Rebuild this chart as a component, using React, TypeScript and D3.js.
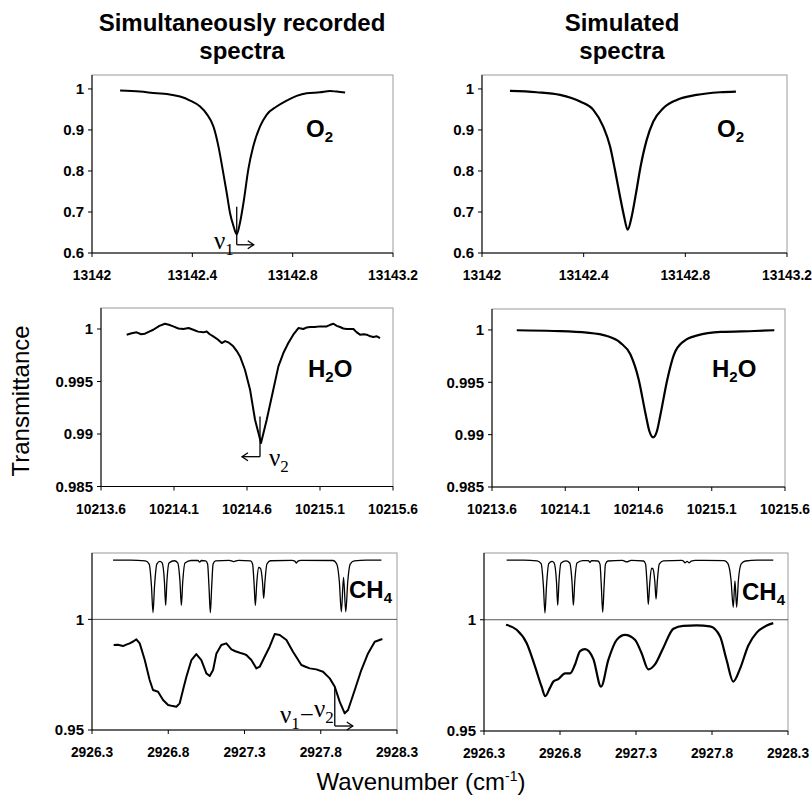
import React from 'react';
import * as d3 from 'd3';

type Pt = [number, number];

// ---- O2 line (13142 cm-1 region) ----
const o2Recorded: Pt[] = [
  [13142.112, 0.996], [13142.191, 0.9935], [13142.258, 0.9895], [13142.298, 0.9879],
  [13142.351, 0.9814], [13142.391, 0.9717], [13142.431, 0.9571], [13142.457, 0.9393],
  [13142.484, 0.9086], [13142.504, 0.86], [13142.521, 0.8034], [13142.537, 0.7468],
  [13142.55, 0.6982], [13142.564, 0.6658], [13142.577, 0.6456], [13142.59, 0.6739],
  [13142.606, 0.7306], [13142.623, 0.8034], [13142.643, 0.86], [13142.67, 0.9086],
  [13142.696, 0.9369], [13142.736, 0.9571], [13142.776, 0.9717], [13142.816, 0.983],
  [13142.856, 0.9895], [13142.909, 0.9919], [13142.949, 0.9951], [13142.976, 0.9935],
  [13143.009, 0.9911],
];
const o2Simulated: Pt[] = [
  [13142.11, 0.9951], [13142.215, 0.9919], [13142.307, 0.9854], [13142.386, 0.9692],
  [13142.438, 0.9489], [13142.477, 0.9083], [13142.504, 0.8596], [13142.523, 0.8028],
  [13142.543, 0.7379], [13142.559, 0.6892], [13142.573, 0.6568], [13142.589, 0.6892],
  [13142.606, 0.746], [13142.624, 0.8109], [13142.648, 0.8759], [13142.674, 0.9205],
  [13142.713, 0.9529], [13142.766, 0.9732], [13142.844, 0.9854], [13142.936, 0.9919],
  [13142.999, 0.9935],
];

// ---- H2O line (10214 cm-1 region) ----
const h2oRecorded: Pt[] = [
  [10213.776, 0.99946], [10213.81, 0.9996], [10213.844, 0.99968], [10213.875, 0.9995],
  [10213.901, 0.99955], [10213.93, 0.99975], [10213.958, 0.99993], [10214.0, 1.0003],
  [10214.038, 1.0005], [10214.065, 1.0004], [10214.095, 1.00025], [10214.13, 1.00005],
  [10214.164, 1.0], [10214.2, 1.0001], [10214.232, 0.99993], [10214.265, 0.99975],
  [10214.301, 0.99968], [10214.324, 0.99977], [10214.345, 0.9995], [10214.369, 0.9993],
  [10214.4, 0.999], [10214.427, 0.99866], [10214.45, 0.99885], [10214.472, 0.99873],
  [10214.506, 0.99835], [10214.53, 0.9979], [10214.552, 0.99739], [10214.586, 0.99612],
  [10214.621, 0.99422], [10214.655, 0.99136], [10214.696, 0.98914], [10214.735, 0.99136],
  [10214.78, 0.99422], [10214.815, 0.99644], [10214.849, 0.99771], [10214.883, 0.99866],
  [10214.917, 0.99946], [10214.952, 1.00009], [10214.986, 1.0], [10215.01, 1.00015],
  [10215.032, 1.00019], [10215.065, 1.0002], [10215.1, 1.00025], [10215.146, 1.00025],
  [10215.17, 1.0004], [10215.192, 1.0005], [10215.215, 1.0003], [10215.237, 1.00019],
  [10215.26, 1.00005], [10215.283, 1.0], [10215.329, 1.0], [10215.35, 0.9997],
  [10215.374, 0.99946], [10215.4, 0.9995], [10215.42, 0.99946], [10215.445, 0.9993],
  [10215.465, 0.99924], [10215.49, 0.9993], [10215.511, 0.99914],
];
const h2oSimulated: Pt[] = [
  [10213.769, 0.99997], [10214.02, 0.9999], [10214.248, 0.99974], [10214.385, 0.99942],
  [10214.477, 0.99877], [10214.545, 0.99765], [10214.602, 0.99523], [10214.648, 0.992],
  [10214.675, 0.9903], [10214.7, 0.98974], [10214.725, 0.9903], [10214.751, 0.992],
  [10214.796, 0.99523], [10214.842, 0.99765], [10214.911, 0.99894], [10215.002, 0.99948],
  [10215.162, 0.99981], [10215.39, 0.9999], [10215.527, 0.99997],
];

// ---- 2927 cm-1 region: CH4 reference trace (offset above 1) and difference band ----
const ch4Recorded: Pt[] = [
  [2926.438, 1.0268], [2926.55, 1.0268], [2926.65, 1.0264], [2926.675, 1.025], [2926.69, 1.015],
  [2926.7, 1.003], [2926.71, 1.015], [2926.725, 1.025], [2926.745, 1.0262], [2926.76, 1.0255],
  [2926.775, 1.017], [2926.783, 1.0063], [2926.791, 1.017], [2926.805, 1.0255], [2926.84, 1.0265],
  [2926.862, 1.0255], [2926.877, 1.017], [2926.886, 1.0063], [2926.895, 1.017], [2926.91, 1.0255],
  [2926.95, 1.0266], [2926.995, 1.0266], [2927.006, 1.0259], [2927.017, 1.0266], [2927.045, 1.0264],
  [2927.058, 1.025], [2927.067, 1.015], [2927.076, 1.003], [2927.085, 1.015], [2927.094, 1.025],
  [2927.11, 1.0264], [2927.2, 1.0267], [2927.229, 1.0261], [2927.26, 1.0267], [2927.34, 1.0264],
  [2927.353, 1.025], [2927.363, 1.016], [2927.371, 1.0063], [2927.38, 1.016], [2927.392, 1.0235],
  [2927.405, 1.023], [2927.418, 1.017], [2927.426, 1.0095], [2927.434, 1.017], [2927.447, 1.025],
  [2927.47, 1.0265], [2927.61, 1.0267], [2927.632, 1.0262], [2927.64, 1.0254], [2927.648, 1.0262],
  [2927.67, 1.0267], [2927.88, 1.0266], [2927.905, 1.025], [2927.922, 1.017], [2927.935, 1.0034],
  [2927.9495, 1.019], [2927.964, 1.0034], [2927.977, 1.017], [2927.993, 1.025], [2928.02, 1.0264],
  [2928.1, 1.0268], [2928.198, 1.0268],
];
const ch4Simulated: Pt[] = [
  [2926.449, 1.0268], [2926.56, 1.0268], [2926.65, 1.0265], [2926.676, 1.0252], [2926.691, 1.015],
  [2926.701, 1.003], [2926.711, 1.015], [2926.726, 1.0252], [2926.748, 1.0262], [2926.762, 1.0255],
  [2926.777, 1.017], [2926.785, 1.0065], [2926.793, 1.017], [2926.807, 1.0255], [2926.84, 1.0265],
  [2926.864, 1.0255], [2926.879, 1.017], [2926.888, 1.0065], [2926.897, 1.017], [2926.912, 1.0255],
  [2926.95, 1.0266], [2926.986, 1.0266], [2926.997, 1.0258], [2927.008, 1.0266], [2927.05, 1.0264],
  [2927.063, 1.025], [2927.072, 1.015], [2927.081, 1.0033], [2927.09, 1.015], [2927.099, 1.025],
  [2927.115, 1.0264], [2927.21, 1.0267], [2927.239, 1.026], [2927.268, 1.0267], [2927.35, 1.0264],
  [2927.363, 1.025], [2927.373, 1.016], [2927.381, 1.0068], [2927.39, 1.016], [2927.402, 1.0232],
  [2927.412, 1.0228], [2927.424, 1.017], [2927.432, 1.0093], [2927.44, 1.017], [2927.453, 1.025],
  [2927.48, 1.0265], [2927.6, 1.0267], [2927.615, 1.0262], [2927.622, 1.0256], [2927.636, 1.0262],
  [2927.65, 1.0256], [2927.664, 1.0264], [2927.69, 1.0267], [2927.88, 1.0266], [2927.905, 1.0252],
  [2927.925, 1.018], [2927.94, 1.0056], [2927.951, 1.0175], [2927.962, 1.0056], [2927.974, 1.018],
  [2927.993, 1.0252], [2928.02, 1.0264], [2928.1, 1.0268], [2928.203, 1.0268],
];
const bandRecorded: Pt[] = [
  [2926.442, 0.98839], [2926.47, 0.9885], [2926.503, 0.98794], [2926.525, 0.9886], [2926.547, 0.98915],
  [2926.57, 0.99], [2926.591, 0.99095], [2926.613, 0.98915], [2926.646, 0.98162], [2926.678, 0.97258],
  [2926.7, 0.96807], [2926.733, 0.96731], [2926.766, 0.96355], [2926.799, 0.96129], [2926.83, 0.9608],
  [2926.853, 0.96054], [2926.875, 0.96205], [2926.9, 0.969], [2926.919, 0.97409], [2926.952, 0.98162],
  [2926.984, 0.98433], [2927.017, 0.98162], [2927.05, 0.9756], [2927.072, 0.97439], [2927.094, 0.9771],
  [2927.116, 0.98463], [2927.148, 0.98839], [2927.181, 0.98915], [2927.214, 0.98644], [2927.24, 0.9856],
  [2927.269, 0.98493], [2927.29, 0.9845], [2927.312, 0.98388], [2927.345, 0.98162], [2927.378, 0.97785],
  [2927.4, 0.9786], [2927.432, 0.98312], [2927.465, 0.98764], [2927.498, 0.99336], [2927.531, 0.99291],
  [2927.575, 0.99065], [2927.618, 0.98538], [2927.673, 0.97936], [2927.7, 0.9786], [2927.728, 0.97785],
  [2927.771, 0.9774], [2927.815, 0.97635], [2927.859, 0.97334], [2927.892, 0.96957], [2927.924, 0.9628],
  [2927.957, 0.95753], [2927.979, 0.95903], [2928.023, 0.96807], [2928.066, 0.9771], [2928.11, 0.98463],
  [2928.154, 0.9899], [2928.204, 0.9911],
];
const bandSimulated: Pt[] = [
  [2926.445, 0.99774], [2926.515, 0.99548], [2926.581, 0.98946], [2926.636, 0.97892], [2926.679, 0.96989],
  [2926.703, 0.9657], [2926.734, 0.96938], [2926.756, 0.9722], [2926.789, 0.9733], [2926.833, 0.9759],
  [2926.866, 0.9759], [2926.899, 0.97992], [2926.932, 0.98595], [2926.964, 0.9868], [2927.019, 0.98244],
  [2927.07, 0.9699], [2927.118, 0.98193], [2927.173, 0.99097], [2927.228, 0.9932], [2927.293, 0.99097],
  [2927.337, 0.98495], [2927.381, 0.9777], [2927.425, 0.97992], [2927.48, 0.98745], [2927.546, 0.99598],
  [2927.611, 0.99729], [2927.699, 0.99744], [2927.787, 0.99699], [2927.853, 0.99247], [2927.896, 0.98193],
  [2927.94, 0.9722], [2927.984, 0.97791], [2928.039, 0.98845], [2928.094, 0.99422], [2928.16, 0.99739],
  [2928.203, 0.9985],
];

// ---- axis ticks ----
const o2XTicks = [13142, 13142.4, 13142.8, 13143.2];
const h2oXTicks = [10213.6, 10214.1, 10214.6, 10215.1, 10215.6];
const ch4XTicks = [2926.3, 2926.8, 2927.3, 2927.8, 2928.3];
const o2YTicks = [0.6, 0.7, 0.8, 0.9, 1];
const h2oYTicks = [0.985, 0.99, 0.995, 1];
const ch4YTicks = [0.95, 1];

const SANS = "'Liberation Sans', Arial, Helvetica, sans-serif";
const SERIF = "'Liberation Serif', 'Times New Roman', serif";

const fmt = (v: number) => String(+v.toFixed(3));

type Series = { data: Pt[]; width: number; smooth: boolean };
type Marker = { x: number; y0: number; y1: number; dir: number; len: number; parts: [string, boolean][]; dx: number; dy: number; anchor: string };
type PanelSpec = {
  l: number; t: number; r: number; b: number;
  xDomain: [number, number]; yDomain: [number, number];
  xTicks: number[]; yTicks: number[];
  grid?: number[];
  series: Series[];
  label: { main: string; sub: string; tail: string; x: number; y: number };
  marker?: Marker;
};

// bold tick label; x labels slightly condensed so the right-most ones fit the page
function TickText({ x, y, anchor, squeeze, children }: { x: number; y: number; anchor: string; squeeze: number; children: string }) {
  return (
    <g transform={`translate(${x},${y}) scale(${squeeze},1)`}>
      <text textAnchor={anchor} fontFamily={SANS} fontWeight="bold" fontSize={15}>{children}</text>
    </g>
  );
}

function Panel({ p }: { p: PanelSpec }) {
  const x = d3.scaleLinear().domain(p.xDomain).range([p.l, p.r]);
  const y = d3.scaleLinear().domain(p.yDomain).range([p.b, p.t]);
  const mk = (smooth: boolean) =>
    d3.line<Pt>().x(d => x(d[0])).y(d => y(d[1])).curve(smooth ? d3.curveMonotoneX : d3.curveLinear);

  const m = p.marker;
  let markerEl = null;
  if (m) {
    const ax = x(m.x), ya = y(m.y0), yb = y(m.y1);
    const tip = ax + m.dir * m.len;
    markerEl = (
      <g stroke="#000" strokeWidth={1.3} fill="none">
        <line x1={ax} x2={ax} y1={ya} y2={yb} />
        <line x1={ax} x2={tip} y1={yb} y2={yb} />
        <path d={`M${tip - m.dir * 6},${yb - 4}L${tip},${yb}L${tip - m.dir * 6},${yb + 4}`} />
        <text x={ax + m.dx} y={yb + m.dy} textAnchor={m.anchor} fontFamily={SERIF} fontSize={25} fill="#000" stroke="none">
          {m.parts.map(([s, isSub], i) => (
            <tspan key={i} fontSize={isSub ? 17 : 25} dy={isSub ? 6 : (i > 0 ? -6 : 0)}>{s}</tspan>
          ))}
        </text>
      </g>
    );
  }

  return (
    <g>
      <rect x={p.l} y={p.t} width={p.r - p.l} height={p.b - p.t} fill="none" stroke="#9a9a9a" strokeWidth={1} />
      {(p.grid || []).map(v => (
        <line key={v} x1={p.l} x2={p.r} y1={y(v)} y2={y(v)} stroke="#555" strokeWidth={1} />
      ))}
      <line x1={p.l} x2={p.l} y1={p.t} y2={p.b} stroke="#000" strokeWidth={1} />
      <line x1={p.l} x2={p.r} y1={p.b} y2={p.b} stroke="#000" strokeWidth={1} />
      {p.yTicks.map(v => (
        <g key={v}>
          <line x1={p.l - 4} x2={p.l} y1={y(v)} y2={y(v)} stroke="#000" />
          <TickText x={p.l - 8} y={y(v) + 5.4} anchor="end" squeeze={1}>{fmt(v)}</TickText>
        </g>
      ))}
      {p.xTicks.map(v => (
        <g key={v}>
          <line x1={x(v)} x2={x(v)} y1={p.b} y2={p.b + 4} stroke="#000" />
          <TickText x={x(v)} y={p.b + 27} anchor="middle" squeeze={0.92}>{fmt(v)}</TickText>
        </g>
      ))}
      {p.series.map((s, i) => (
        <path key={i} d={mk(s.smooth)(s.data) || ''} fill="none" stroke="#000" strokeWidth={s.width} strokeLinejoin="round" />
      ))}
      <text x={p.label.x} y={p.label.y} fontFamily={SANS} fontWeight="bold" fontSize={24}>
        <tspan>{p.label.main}</tspan>
        <tspan fontSize={15} dy={5}>{p.label.sub}</tspan>
        {p.label.tail ? <tspan dy={-5}>{p.label.tail}</tspan> : null}
      </text>
      {markerEl}
    </g>
  );
}

const panels: PanelSpec[] = [
  {
    l: 92, t: 75, r: 393, b: 253, xDomain: [13142, 13143.2], yDomain: [0.6, 1.034],
    xTicks: o2XTicks, yTicks: o2YTicks,
    series: [{ data: o2Recorded, width: 2, smooth: true }],
    label: { main: 'O', sub: '2', tail: '', x: 306, y: 137 },
    marker: { x: 13142.577, y0: 0.713, y1: 0.62, dir: 1, len: 17, parts: [['ν', false], ['1', true]], dx: -3, dy: 4, anchor: 'end' },
  },
  {
    l: 482, t: 75, r: 787, b: 253, xDomain: [13142, 13143.2], yDomain: [0.6, 1.034],
    xTicks: o2XTicks, yTicks: o2YTicks,
    series: [{ data: o2Simulated, width: 2.2, smooth: true }],
    label: { main: 'O', sub: '2', tail: '', x: 717, y: 137 },
  },
  {
    l: 101, t: 308, r: 393, b: 486.5, xDomain: [10213.6, 10215.6], yDomain: [0.985, 1.002],
    xTicks: h2oXTicks, yTicks: h2oYTicks,
    series: [{ data: h2oRecorded, width: 2, smooth: false }],
    label: { main: 'H', sub: '2', tail: 'O', x: 308, y: 377 },
    marker: { x: 10214.689, y0: 0.99166, y1: 0.98784, dir: -1, len: 18, parts: [['ν', false], ['2', true]], dx: 9, dy: 9, anchor: 'start' },
  },
  {
    l: 492, t: 309, r: 785, b: 487, xDomain: [10213.6, 10215.6], yDomain: [0.985, 1.002],
    xTicks: h2oXTicks, yTicks: h2oYTicks,
    series: [{ data: h2oSimulated, width: 2.2, smooth: true }],
    label: { main: 'H', sub: '2', tail: 'O', x: 712, y: 377 },
  },
  {
    l: 92, t: 553, r: 397, b: 730, xDomain: [2926.3, 2928.3], yDomain: [0.95, 1.03],
    xTicks: ch4XTicks, yTicks: ch4YTicks, grid: [1],
    series: [
      { data: ch4Recorded, width: 1.3, smooth: true },
      { data: bandRecorded, width: 2, smooth: false },
    ],
    label: { main: 'CH', sub: '4', tail: '', x: 349, y: 598 },
    marker: { x: 2927.892, y0: 0.96956, y1: 0.9518, dir: 1, len: 18, parts: [['ν', false], ['1', true], ['−', false], ['ν', false], ['2', true]], dx: -1, dy: -3, anchor: 'end' },
  },
  {
    l: 484, t: 553, r: 788, b: 731, xDomain: [2926.3, 2928.3], yDomain: [0.95, 1.03],
    xTicks: ch4XTicks, yTicks: ch4YTicks, grid: [1],
    series: [
      { data: ch4Simulated, width: 1.3, smooth: true },
      { data: bandSimulated, width: 2.2, smooth: true },
    ],
    label: { main: 'CH', sub: '4', tail: '', x: 742, y: 600 },
  },
];

export default function App() {
  return (
    <svg width={812} height={799} style={{ position: 'absolute', left: 0, top: 0, background: '#fff' }}>
      <rect width={812} height={799} fill="#fff" />
      <g fontFamily={SANS} fontWeight="bold" fontSize={24} textAnchor="middle">
        <text x={242} y={31}>Simultaneously recorded</text>
        <text x={242} y={59}>spectra</text>
        <text x={622} y={31}>Simulated</text>
        <text x={622} y={59}>spectra</text>
      </g>
      {panels.map((p, i) => <Panel key={i} p={p} />)}
      <text transform="translate(29,401) rotate(-90)" textAnchor="middle" fontFamily={SANS} fontSize={24}>Transmittance</text>
      <text x={421} y={790} textAnchor="middle" fontFamily={SANS} fontSize={24}>
        Wavenumber (cm<tspan fontSize={14} dy={-9}>-1</tspan><tspan dy={9}>)</tspan>
      </text>
    </svg>
  );
}
